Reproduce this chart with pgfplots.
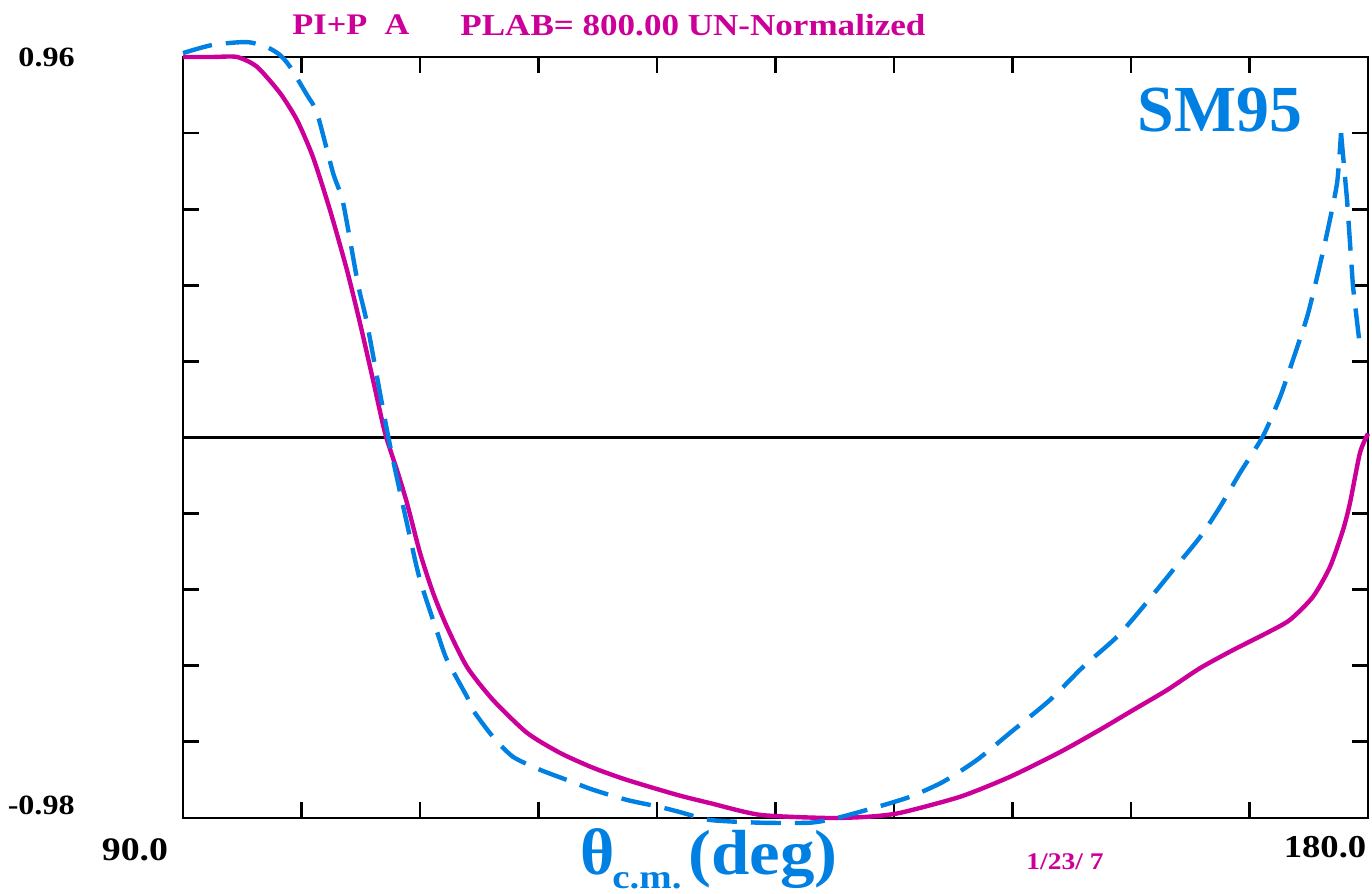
\documentclass[border=0pt]{standalone}
\usepackage{fontspec}
\setmainfont{Liberation Serif}
\newfontfamily\widefont[FakeStretch=1.15]{Liberation Serif}
\newfontfamily\midfont[FakeStretch=1.08]{Liberation Serif}
\usepackage{pgfplots}
\pgfplotsset{compat=1.18}
\definecolor{mag}{RGB}{204,0,153}
\definecolor{sky}{RGB}{0,128,226}
\begin{document}
\begin{tikzpicture}[x=1bp,y=1bp]
\begin{axis}[
  scale only axis, width=592.5bp, height=380.5bp,
  xmin=90, xmax=180, ymin=-0.98, ymax=0.96,
  xtick={90,99,108,117,126,135,144,153,162,171,180},
  ytick={-0.98,-0.786,-0.592,-0.398,-0.204,-0.01,0.184,0.378,0.572,0.766,0.96},
  xticklabels={}, yticklabels={},
  tick pos=both, tick align=inside, major tick length=8bp,
  every tick/.style={black, line width=1.4bp},
  axis line style={line width=1.3bp},
  clip=false,
]
\addplot[black, line width=1.3bp] coordinates {(90,-0.01) (180,-0.01)};
\addplot[mag, line width=2.2bp, smooth, tension=0.4] coordinates {
(90,0.96) (92.28,0.96) (94.10,0.96) (95.62,0.935) (97.37,0.868) (98.66,0.799)
(99.87,0.705) (101.16,0.570) (102.45,0.417) (103.44,0.282) (104.43,0.137)
(105.34,0.002) (106.25,-0.093) (107.01,-0.177) (108.00,-0.304) (108.99,-0.406)
(110.05,-0.493) (111.57,-0.595) (113.54,-0.679) (116.13,-0.763) (118.63,-0.814)
(121.14,-0.852) (123.72,-0.883) (127.52,-0.921) (130.02,-0.942) (133.82,-0.972)
(138.91,-0.980) (141.95,-0.977) (144.45,-0.967) (149.01,-0.926) (152.81,-0.875)
(156.61,-0.812) (159.64,-0.755) (162.15,-0.705) (164.73,-0.654) (167.24,-0.598)
(169.74,-0.552) (172.33,-0.508) (174.07,-0.475) (175.82,-0.416) (177.11,-0.340)
(178.10,-0.246) (178.63,-0.177) (179.39,-0.049) (180,0.0)
};
\addplot[sky, line width=2.2bp, dash pattern=on 15bp off 7bp, smooth, tension=0.4] coordinates {
(90,0.970) (92.28,0.991) (94.86,0.998) (96.38,0.985) (97.37,0.965) (98.13,0.935)
(99.42,0.863) (100.18,0.817) (101.40,0.664) (102.16,0.588) (103.30,0.379)
(103.97,0.282) (105.34,0.035) (105.95,-0.067) (107.24,-0.264) (108.00,-0.373)
(109.37,-0.513) (110.05,-0.577) (111.57,-0.671) (112.02,-0.705) (113.54,-0.773)
(115.06,-0.824) (117.11,-0.857) (119.16,-0.883) (121.14,-0.908) (123.72,-0.934)
(126.23,-0.952) (127.75,-0.965) (130.02,-0.985) (133.82,-0.992) (137.62,-0.992)
(139.67,-0.980) (142.71,-0.952) (145.21,-0.926) (147.72,-0.888) (150.30,-0.832)
(152.81,-0.763) (155.85,-0.679) (158.35,-0.595) (160.94,-0.518) (162.91,-0.442)
(165.19,-0.348) (167.24,-0.264) (168.76,-0.187) (170.28,-0.100) (172.03,-0.006)
(173.32,0.093) (174.30,0.188) (175.37,0.297) (176.13,0.399) (176.89,0.511)
(177.65,0.639) (177.95,0.766)
};
\addplot[sky, line width=2.2bp, dash pattern=on 15bp off 7bp] coordinates {
(177.95,0.766) (178.41,0.595) (178.86,0.374) (179.39,0.221)
};
\end{axis}
% labels (axis box lower-left at origin, 1 px = 0.5 bp)
\node[anchor=east, inner sep=0] at (-54,380.5) {\widefont\bfseries\fontsize{14}{14}\selectfont 0.96};
\node[anchor=east, inner sep=0] at (-54,6.5) {\widefont\bfseries\fontsize{14}{14}\selectfont -0.98};
\node[anchor=center, inner sep=0] at (-24,-16) {\widefont\bfseries\fontsize{16.5}{16.5}\selectfont 90.0};
\node[anchor=center, inner sep=0] at (571,-14.5) {\widefont\bfseries\fontsize{16}{16}\selectfont 180.0};
\node[anchor=center, inner sep=0, text=mag] at (441,-22) {\widefont\bfseries\fontsize{12}{12}\selectfont 1/23/ 7};
\node[anchor=west, inner sep=0, text=mag] at (54.5,396.5) {\widefont\bfseries\fontsize{15}{15}\selectfont PI+P\ \ A};
\node[anchor=west, inner sep=0, text=mag] at (138.5,396.5) {\widefont\bfseries\fontsize{15.3}{15.3}\selectfont PLAB= 800.00 UN-Normalized};
\node[anchor=center, inner sep=0, text=sky] at (518.5,354) {\bfseries\fontsize{33}{33}\selectfont SM95};
\node[anchor=base west, inner sep=0, text=sky] at (198.5,-28.5) {\bfseries\fontsize{33}{33}\selectfont θ};
\node[anchor=base west, inner sep=0, text=sky] at (214.5,-35.5) {\widefont\bfseries\fontsize{17}{17}\selectfont c.m.};
\node[anchor=base west, inner sep=0, text=sky] at (252.5,-28.5) {\midfont\bfseries\fontsize{32}{32}\selectfont (deg)};
\pgfresetboundingbox
\path (-91.5,-38) rectangle (594.5,409);
\end{tikzpicture}
\end{document}
